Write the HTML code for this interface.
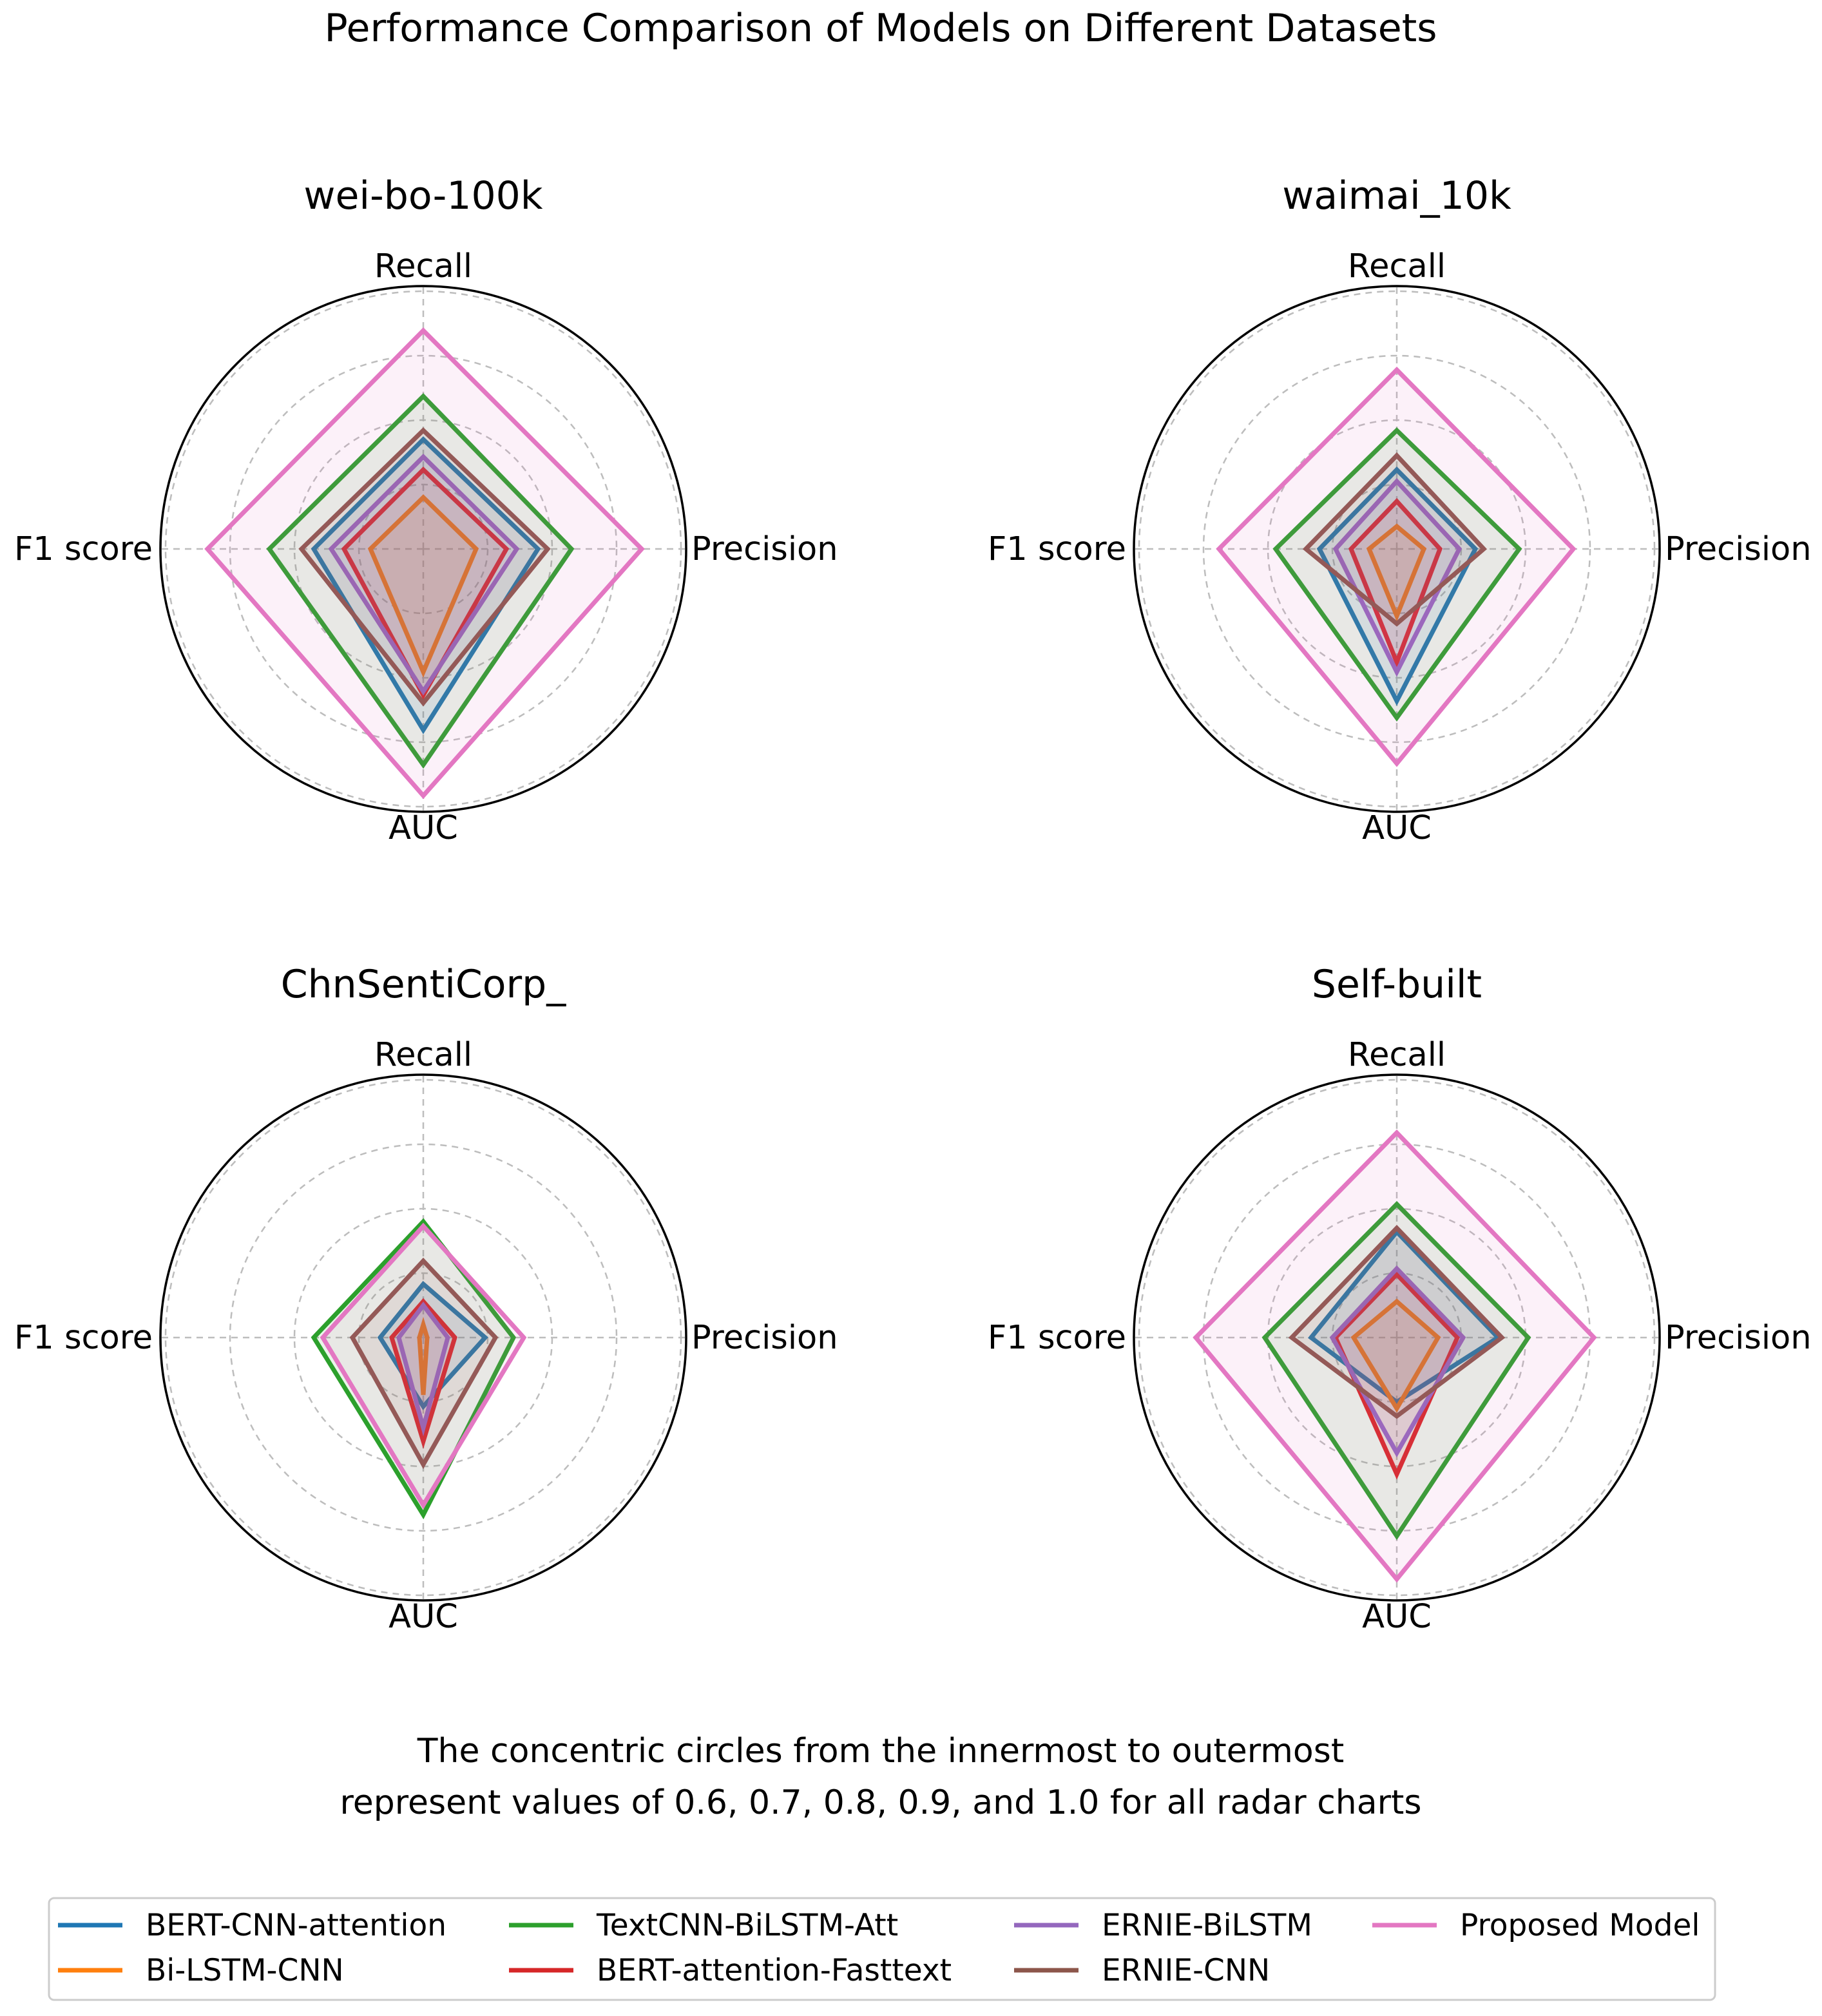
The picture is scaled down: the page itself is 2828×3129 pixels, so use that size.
<!DOCTYPE html>
<html><head><meta charset="utf-8"><style>
html,body{margin:0;padding:0;background:#fff;}
svg{display:block;font-family:"DejaVu Sans","Liberation Sans",sans-serif;}
</style></head><body>
<svg id="fig" width="2828" height="3129" viewBox="0 0 2828 3129">
<text x="1367" y="64" font-size="60" text-anchor="middle" fill="#000">Performance Comparison of Models on Different Datasets</text>
<text x="1367" y="2735" font-size="52" text-anchor="middle">The concentric circles from the innermost to outermost</text>
<text x="1367" y="2815" font-size="52" text-anchor="middle">represent values of 0.6, 0.7, 0.8, 0.9, and 1.0 for all radar charts</text>
<g id="legend">
<rect x="76" y="2946" width="2586" height="158" rx="8" fill="#fff" stroke="#ccc" stroke-width="3"/>
</g>
</svg>
<script>
const models = ["BERT-CNN-attention","Bi-LSTM-CNN","TextCNN-BiLSTM-Att","BERT-attention-Fasttext","ERNIE-BiLSTM","ERNIE-CNN","Proposed Model"];
const colors = ["#1f77b4","#ff7f0e","#2ca02c","#d62728","#9467bd","#8c564b","#e377c2"];
const metrics = ["Recall","Precision","AUC","F1 score"];
const datasets = ["wei-bo-100k","waimai_10k","ChnSentiCorp_","Self-built"];
const gridValues = [0.7,0.8,0.9,1.0];
// values per model: [Recall, Precision, AUC, F1]
const weibo = [[0.770,0.778,0.881,0.770],[0.680,0.682,0.791,0.682],[0.837,0.830,0.935,0.839],[0.723,0.729,0.827,0.723],[0.743,0.745,0.821,0.743],[0.784,0.793,0.839,0.789],[0.939,0.939,0.983,0.935]];
const waimai = [[0.723,0.722,0.836,0.720],[0.635,0.642,0.704,0.643],[0.784,0.790,0.862,0.788],[0.674,0.667,0.776,0.671],[0.705,0.697,0.791,0.695],[0.745,0.735,0.716,0.741],[0.878,0.874,0.933,0.876]];
const chnsenti = [[0.683,0.696,0.707,0.667],[0.620,0.606,0.689,0.606],[0.780,0.740,0.875,0.770],[0.656,0.649,0.761,0.649],[0.650,0.638,0.740,0.638],[0.719,0.712,0.797,0.710],[0.773,0.756,0.860,0.756]];
const selfbuilt = [[0.764,0.757,0.700,0.733],[0.656,0.664,0.710,0.667],[0.807,0.804,0.908,0.805],[0.698,0.694,0.812,0.695],[0.707,0.703,0.779,0.700],[0.770,0.763,0.722,0.763],[0.918,0.906,0.975,0.912]];
const allData = [weibo, waimai, chnsenti, selfbuilt];

const NS = "http://www.w3.org/2000/svg";
const svg = document.getElementById("fig");
const centers = [[657,852],[2168,852],[657,2076],[2168,2076]];
const R0 = 0.6, SCALE = 1000, RMAX = 408;
function rad(v){ return Math.max(0,(v - R0) * SCALE); }
function pt(cx,cy,i,v){ const a = Math.PI/2 - i*Math.PI/2; const r = rad(v); return [cx + r*Math.cos(a), cy - r*Math.sin(a)]; }
function mk(tag, attrs, parent){ const e = document.createElementNS(NS, tag); for (const k in attrs) e.setAttribute(k, attrs[k]); (parent||svg).appendChild(e); return e; }

datasets.forEach((ds, d) => {
  const [cx, cy] = centers[d];
  const g = mk("g", {});
  
  
  gridValues.forEach(gv => {
    const c = mk("circle", {cx:cx, cy:cy, r:rad(gv), fill:"none", stroke:"#bdbdbd", "stroke-width":2.5, "stroke-dasharray":"10 8"}, g);
    
    
  });
  for (let i=0;i<4;i++){
    const [x,y] = pt(cx,cy,i,R0 + RMAX/SCALE);
    const l = mk("line", {x1:cx, y1:cy, x2:x, y2:y, stroke:"#bdbdbd", "stroke-width":2.5, "stroke-dasharray":"10 8"}, g);
    
    
  }
  allData[d].forEach((vals, m) => {
    const pts = vals.map((v,i) => pt(cx,cy,i,v).map(n=>n.toFixed(1)).join(",")).join(" ");
    const p = mk("polygon", {points:pts, fill:colors[m], "fill-opacity":0.1, stroke:colors[m], "stroke-width":7, "stroke-linejoin":"miter"}, g);
    
    
  });
  const sp = mk("circle", {cx:cx, cy:cy, r:RMAX, fill:"none", stroke:"#000", "stroke-width":3.5}, g);
  
  
  const t = mk("text", {x:cx, y:cy-528, "font-size":60, "text-anchor":"middle"}, g);
  t.textContent = ds;
  
  
  const labPos = [[cx, cy-422, "middle"],[cx+416, cy+17, "start"],[cx, cy+450, "middle"],[cx-420, cy+17, "end"]];
  metrics.forEach((mt, i) => {
    const lt = mk("text", {x:labPos[i][0], y:labPos[i][1], "font-size":51, "text-anchor":labPos[i][2]}, g);
    lt.textContent = mt;
    
    
  });
});

const legend = document.getElementById("legend");
const colX = [90, 790, 1574, 2130];
const rowY = [2988, 3058];
models.forEach((m, k) => {
  const col = Math.floor(k/2), row = k%2;
  const x = colX[col], y = rowY[row];
  const ln = mk("line", {x1:x, y1:y, x2:x+100, y2:y, stroke:colors[k], "stroke-width":7}, legend);
  
  
  const tx = mk("text", {x:x+136, y:y+16, "font-size":47}, legend);
  tx.textContent = m;
  
  
});
</script>
</body></html>
